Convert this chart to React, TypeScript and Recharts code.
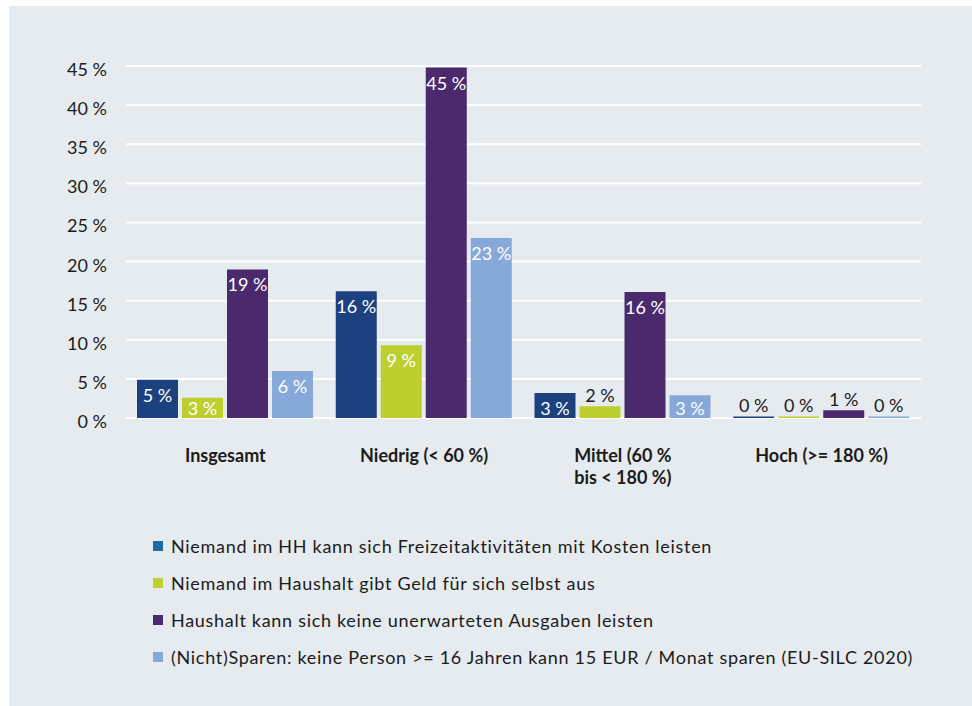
import { BarChart, Bar, XAxis, YAxis, CartesianGrid, LabelList } from 'recharts';

// Einkommensgruppen (x-Achse)
const categories = ['Insgesamt', 'Niedrig (< 60 %)', 'Mittel (60 %\nbis < 180 %)', 'Hoch (>= 180 %)'];

// Anteile in Prozent
const freizeit = [4.9, 16.2, 3.2, 0.2];
const geldSelbst = [2.6, 9.3, 1.5, 0.2];
const unerwartet = [19.0, 44.8, 16.1, 1.0];
const sparen = [6.0, 23.0, 2.9, 0.2];

const yTicks = [0, 5, 10, 15, 20, 25, 30, 35, 40, 45];

const seriesNames = [
  'Niemand im HH kann sich Freizeitaktivitäten mit Kosten leisten',
  'Niemand im Haushalt gibt Geld für sich selbst aus',
  'Haushalt kann sich keine unerwarteten Ausgaben leisten',
  '(Nicht)Sparen: keine Person >= 16 Jahren kann 15 EUR / Monat sparen (EU-SILC 2020)',
];
const barColors = ['#1D417F', '#BCCF2F', '#4A2A6D', '#86A9D9'];
const legendColors = ['#1F69A5', '#BDD131', '#4B2A6E', '#85A8D8'];

const data = categories.map((name, i) => ({
  name,
  s0: freizeit[i],
  s1: geldSelbst[i],
  s2: unerwartet[i],
  s3: sparen[i],
}));

const FONT = 'Lato, "Open Sans", sans-serif';
const TEXT = '#1b1b1b';

const pct = (v: number) => `${Math.round(v)} %`;

// white label inside tall bars, dark label above short ones
const renderLabel = (props: any) => {
  const { x, y, width, height, value } = props;
  const inside = value >= 2.5;
  const top = Number(y);
  const cy = inside ? Math.min(top + 15, top + Number(height) - 10) : top - 11;
  return (
    <text
      x={Number(x) + Number(width) / 2}
      y={cy}
      textAnchor="middle"
      dominantBaseline="central"
      fill={inside ? '#ffffff' : TEXT}
      fontSize={18}
      fontFamily={FONT}
    >
      {pct(Number(value))}
    </text>
  );
};

const XTick = ({ x, y, payload }: any) => {
  const lines = String(payload.value).split('\n');
  return (
    <text x={x} y={y + 37} textAnchor="middle" dominantBaseline="central" fill={TEXT} fontSize={18} fontWeight={700} fontFamily={FONT}>
      {lines.map((l, i) => (
        <tspan key={i} x={x} dy={i === 0 ? 0 : 22}>{l}</tspan>
      ))}
    </text>
  );
};

const YTick = ({ x, y, payload }: any) => (
  <text x={x} y={y + 3} textAnchor="end" dominantBaseline="central" fill={TEXT} fontSize={18} fontFamily={FONT}>
    {pct(payload.value)}
  </text>
);

export default function App() {
  return (
    <div style={{ position: 'absolute', left: 9, top: 6, width: 963, height: 700, backgroundColor: '#E6EBF0' }}>
      <BarChart width={963} height={500} data={data} margin={{ top: 60, right: 51, bottom: 8, left: 0 }} barSize={41} barGap={4}>
        <CartesianGrid vertical={false} stroke="#ffffff" strokeWidth={2} />
        <XAxis dataKey="name" axisLine={false} tickLine={false} tickSize={0} tickMargin={0} height={80} tick={<XTick />} interval={0} />
        <YAxis domain={[0, 45]} ticks={yTicks} interval={0} axisLine={false} tickLine={false} tickSize={0} tickMargin={19} width={117} tick={<YTick />} />
        {['s0', 's1', 's2', 's3'].map((k, i) => (
          <Bar key={k} dataKey={k} name={seriesNames[i]} fill={barColors[i]} isAnimationActive={false}>
            <LabelList dataKey={k} content={renderLabel} />
          </Bar>
        ))}
      </BarChart>
      <div style={{ position: 'absolute', left: 144, top: 521, fontFamily: FONT, fontSize: 18, letterSpacing: 0.7, color: TEXT }}>
        {seriesNames.map((n, i) => (
          <div key={i} style={{ display: 'flex', alignItems: 'center', height: 37, whiteSpace: 'nowrap' }}>
            <div style={{ width: 10, height: 10, backgroundColor: legendColors[i], marginRight: 8 }} />
            <span>{n}</span>
          </div>
        ))}
      </div>
    </div>
  );
}
